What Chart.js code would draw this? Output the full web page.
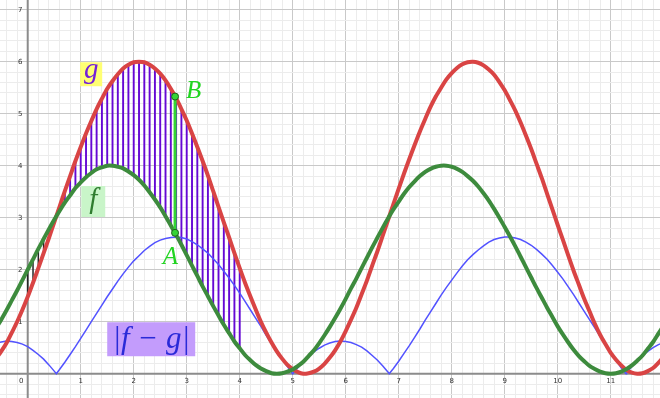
<!DOCTYPE html>
<html>
<head>
<meta charset="utf-8">
<title>f, g and |f − g|</title>
<script src="https://cdn.jsdelivr.net/npm/chart.js@4.4.1/dist/chart.umd.min.js"></script>
<style>
  html, body { margin: 0; padding: 0; background: #fff; }
  #wrap { width: 660px; height: 398px; }
</style>
</head>
<body>
<div id="wrap"><canvas id="plot" width="660" height="398"></canvas></div>
<script>
// Sample positions along x (step 0.1)
const xs = [
  -0.6, -0.5, -0.4, -0.3, -0.2, -0.1, 0.0, 0.1, 0.2, 0.3, 0.4, 0.5, 0.6, 0.7, 0.8, 0.9,
  1.0, 1.1, 1.2, 1.3, 1.4, 1.5, 1.6, 1.7, 1.8, 1.9, 2.0, 2.1, 2.2, 2.3, 2.4, 2.5, 2.6, 2.7, 2.8, 2.9,
  3.0, 3.1, 3.2, 3.3, 3.4, 3.5, 3.6, 3.7, 3.8, 3.9, 4.0, 4.1, 4.2, 4.3, 4.4, 4.5, 4.6, 4.7, 4.8, 4.9,
  5.0, 5.1, 5.2, 5.3, 5.4, 5.5, 5.6, 5.7, 5.8, 5.9, 6.0, 6.1, 6.2, 6.3, 6.4, 6.5, 6.6, 6.7, 6.8, 6.9,
  7.0, 7.1, 7.2, 7.3, 7.4, 7.5, 7.6, 7.7, 7.8, 7.9, 8.0, 8.1, 8.2, 8.3, 8.4, 8.5, 8.6, 8.7, 8.8, 8.9,
  9.0, 9.1, 9.2, 9.3, 9.4, 9.5, 9.6, 9.7, 9.8, 9.9, 10.0, 10.1, 10.2, 10.3, 10.4, 10.5, 10.6, 10.7, 10.8, 10.9,
  11.0, 11.1, 11.2, 11.3, 11.4, 11.5, 11.6, 11.7, 11.8, 11.9, 12.0
];

// f (green curve)
const fVals = [
  0.87, 1.04, 1.22, 1.41, 1.60, 1.80, 2.00, 2.20, 2.40, 2.59, 2.78, 2.96, 3.13, 3.29, 3.43, 3.57,
  3.68, 3.78, 3.86, 3.93, 3.97, 4.00, 4.00, 3.98, 3.95, 3.89, 3.82, 3.73, 3.62, 3.49, 3.35, 3.20, 3.03, 2.85, 2.67, 2.48,
  2.28, 2.08, 1.88, 1.68, 1.49, 1.30, 1.12, 0.94, 0.78, 0.62, 0.49, 0.36, 0.26, 0.17, 0.10, 0.05, 0.01, 0.00, 0.01, 0.04,
  0.08, 0.15, 0.23, 0.34, 0.45, 0.59, 0.74, 0.90, 1.07, 1.25, 1.44, 1.64, 1.83, 2.03, 2.23, 2.43, 2.62, 2.81, 2.99, 3.16,
  3.31, 3.46, 3.59, 3.70, 3.80, 3.88, 3.94, 3.98, 4.00, 4.00, 3.98, 3.94, 3.88, 3.80, 3.71, 3.60, 3.47, 3.33, 3.17, 3.00,
  2.82, 2.64, 2.45, 2.25, 2.05, 1.85, 1.65, 1.46, 1.27, 1.09, 0.91, 0.75, 0.60, 0.46, 0.34, 0.24, 0.15, 0.09, 0.04, 0.01,
  0.00, 0.01, 0.04, 0.09, 0.16, 0.25, 0.35, 0.48, 0.61, 0.77, 0.93
];

// g (red curve)
const gVals = [
  0.29, 0.43, 0.59, 0.79, 1.00, 1.23, 1.48, 1.75, 2.03, 2.32, 2.61, 2.91, 3.21, 3.51, 3.80, 4.09,
  4.36, 4.62, 4.86, 5.09, 5.29, 5.48, 5.63, 5.76, 5.87, 5.94, 5.99, 6.00, 5.99, 5.94, 5.87, 5.77, 5.64, 5.48, 5.30, 5.09,
  4.87, 4.62, 4.36, 4.09, 3.81, 3.51, 3.21, 2.91, 2.62, 2.32, 2.03, 1.75, 1.49, 1.24, 1.00, 0.79, 0.60, 0.43, 0.29, 0.17,
  0.09, 0.03, 0.00, 0.01, 0.04, 0.10, 0.19, 0.31, 0.45, 0.62, 0.82, 1.04, 1.27, 1.53, 1.79, 2.08, 2.36, 2.66, 2.96, 3.26,
  3.56, 3.85, 4.13, 4.40, 4.66, 4.90, 5.13, 5.33, 5.50, 5.66, 5.78, 5.88, 5.95, 5.99, 6.00, 5.98, 5.93, 5.85, 5.75, 5.61,
  5.45, 5.26, 5.06, 4.83, 4.58, 4.32, 4.04, 3.76, 3.46, 3.16, 2.86, 2.57, 2.27, 1.98, 1.71, 1.44, 1.20, 0.96, 0.75, 0.57,
  0.40, 0.27, 0.16, 0.07, 0.02, 0.00, 0.01, 0.05, 0.11, 0.21, 0.33
];

// |f - g| (blue curve)
const diffVals = [
  0.59, 0.61, 0.63, 0.62, 0.60, 0.57, 0.52, 0.45, 0.37, 0.28, 0.17, 0.05, 0.08, 0.22, 0.37, 0.52,
  0.68, 0.84, 1.00, 1.16, 1.32, 1.48, 1.63, 1.78, 1.92, 2.05, 2.17, 2.27, 2.37, 2.45, 2.52, 2.57, 2.60, 2.62, 2.63, 2.62,
  2.59, 2.54, 2.48, 2.40, 2.32, 2.21, 2.10, 1.97, 1.84, 1.70, 1.55, 1.39, 1.23, 1.07, 0.91, 0.74, 0.58, 0.43, 0.28, 0.14,
  0.00, 0.12, 0.23, 0.33, 0.42, 0.49, 0.55, 0.59, 0.62, 0.63, 0.62, 0.60, 0.56, 0.51, 0.44, 0.35, 0.26, 0.15, 0.03, 0.10,
  0.24, 0.39, 0.54, 0.70, 0.86, 1.03, 1.19, 1.35, 1.51, 1.66, 1.80, 1.94, 2.07, 2.19, 2.29, 2.38, 2.46, 2.53, 2.58, 2.61,
  2.63, 2.63, 2.61, 2.58, 2.53, 2.47, 2.39, 2.30, 2.20, 2.08, 1.95, 1.82, 1.67, 1.52, 1.36, 1.20, 1.04, 0.88, 0.72, 0.56,
  0.40, 0.26, 0.11, 0.02, 0.14, 0.25, 0.35, 0.43, 0.50, 0.56, 0.60
];

// where f and g cross (|f - g| = 0)
const diffZeros = [0.54, 5.0, 6.82, 11.29];

// shaded strip between f and g
const hatchStart = 0;
const hatchEnd = 4;

// segment AB at x = 2.78
const segX = 2.78;
const pointA = 2.71;   // f(2.78)
const pointB = 5.33;   // g(2.78)

const xTickLabels = [0, 1, 2, 3, 4, 5, 6, 7, 8, 9, 10, 11];
const yTickLabels = [1, 2, 3, 4, 5, 6, 7];

const toPoints = (vals) => xs.map((x, i) => ({ x: x, y: vals[i] }));

const diffPoints = toPoints(diffVals)
  .concat(diffZeros.map(z => ({ x: z, y: 0 })))
  .sort((a, b) => a.x - b.x);

// vertical hatch lines, split by which curve is on top
const hatchUp = [], hatchDown = [];
xs.forEach((x, i) => {
  if (x < hatchStart - 1e-9 || x > hatchEnd + 1e-9) return;
  const target = fVals[i] > gVals[i] ? hatchDown : hatchUp;
  target.push({ x: x, y: fVals[i] }, { x: x, y: gVals[i] }, { x: x, y: null });
});

// minor grid every 0.2
function gridTicks(scale) {
  const ticks = [];
  for (let k = Math.ceil(scale.min * 5 - 1e-9); k <= Math.floor(scale.max * 5 + 1e-9); k++) {
    ticks.push({ value: k / 5 });
  }
  scale.ticks = ticks;
}

function gridColor(ctx) {
  const v = ctx.tick.value;
  if (Math.abs(v) < 1e-9) return 'rgba(0,0,0,0)';
  return Math.abs(v - Math.round(v)) < 1e-9 ? '#c9c9c9' : '#ececec';
}

const axisPlugin = {
  id: 'axesAndLabels',
  beforeDatasetsDraw(chart) {
    const { ctx, scales: { x, y }, chartArea } = chart;
    const x0 = x.getPixelForValue(0), y0 = y.getPixelForValue(0);
    ctx.save();
    ctx.strokeStyle = '#8c8c8c';
    ctx.lineWidth = 2;
    ctx.beginPath();
    ctx.moveTo(chartArea.left, y0); ctx.lineTo(chartArea.right, y0);
    ctx.moveTo(x0, chartArea.top); ctx.lineTo(x0, chartArea.bottom);
    ctx.stroke();

    ctx.fillStyle = '#333';
    ctx.font = '7px "DejaVu Sans"';
    ctx.textAlign = 'center';
    ctx.textBaseline = 'middle';
    xTickLabels.forEach(v => {
      const px = x.getPixelForValue(v) - (v === 0 ? 6.5 : 0);
      ctx.fillText(String(v), px, y0 + 7.5);
    });
    yTickLabels.forEach(v => {
      ctx.fillText(String(v), x0 - 7.5, y.getPixelForValue(v));
    });
    ctx.restore();
  },
  afterDatasetsDraw(chart) {
    const { ctx, scales: { x, y } } = chart;
    ctx.save();
    ctx.textAlign = 'center';
    ctx.textBaseline = 'alphabetic';

    // name tags
    const tags = [
      { text: 'g', at: [0.99, 5.99], w: 22, h: 24, bg: '#ffff73', color: '#7420d8', size: 29, base: 16 },
      { text: 'f', at: [1.01, 3.61], w: 24, h: 31, bg: '#c9f5c9', color: '#2f7d2f', size: 29, base: 22 },
      { text: '|f − g|', at: [1.50, 0.99], w: 88, h: 34, bg: '#c39cfc', color: '#2a2ad8', size: 31, base: 26 }
    ];
    tags.forEach(t => {
      const left = x.getPixelForValue(t.at[0]), top = y.getPixelForValue(t.at[1]);
      ctx.fillStyle = t.bg;
      ctx.fillRect(left, top, t.w, t.h);
      ctx.fillStyle = t.color;
      ctx.font = 'italic ' + t.size + 'px "Liberation Serif"';
      ctx.fillText(t.text, left + t.w / 2, top + t.base);
    });

    // point names
    ctx.fillStyle = '#22d422';
    ctx.font = 'italic 25px "Liberation Serif"';
    ctx.fillText('A', x.getPixelForValue(2.69), y.getPixelForValue(2.26) + 8);
    ctx.fillText('B', x.getPixelForValue(3.13), y.getPixelForValue(5.46) + 8);
    ctx.restore();
  }
};

const chart = new Chart(document.getElementById('plot'), {
  type: 'line',
  data: {
    datasets: [
      {
        data: [{ x: segX, y: pointA }, { x: segX, y: pointB }],
        showLine: false,
        pointRadius: 3.5,
        pointBackgroundColor: '#35d435',
        pointBorderColor: '#1d5e1d',
        pointBorderWidth: 1,
        order: 0
      },
      {
        data: [{ x: segX, y: pointA }, { x: segX, y: pointB }],
        borderColor: '#33d633',
        borderWidth: 3,
        pointRadius: 0,
        order: 1
      },
      {
        data: toPoints(fVals),
        borderColor: '#3d8b3d',
        borderWidth: 4,
        pointRadius: 0,
        tension: 0.3,
        borderJoinStyle: 'round',
        order: 2
      },
      {
        data: toPoints(gVals),
        borderColor: '#d94444',
        borderWidth: 4,
        pointRadius: 0,
        tension: 0.3,
        borderJoinStyle: 'round',
        order: 3
      },
      {
        data: diffPoints,
        borderColor: '#5252ff',
        borderWidth: 1.5,
        pointRadius: 0,
        tension: 0,
        order: 4
      },
      {
        data: hatchUp,
        borderColor: '#6508d4',
        borderWidth: 1.9,
        pointRadius: 0,
        spanGaps: false,
        order: 5
      },
      {
        data: hatchDown,
        borderColor: '#262626',
        borderWidth: 1.5,
        pointRadius: 0,
        spanGaps: false,
        order: 5
      }
    ]
  },
  options: {
    responsive: false,
    maintainAspectRatio: false,
    animation: false,
    events: [],
    layout: { padding: 0, autoPadding: false },
    plugins: { legend: { display: false }, tooltip: { enabled: false } },
    scales: {
      x: {
        type: 'linear',
        min: -0.523,
        max: 11.93,
        border: { display: false },
        ticks: { display: false },
        grid: { color: gridColor, lineWidth: 1, drawTicks: false },
        afterBuildTicks: gridTicks
      },
      y: {
        type: 'linear',
        min: -0.467,
        max: 7.187,
        border: { display: false },
        ticks: { display: false },
        grid: { color: gridColor, lineWidth: 1, drawTicks: false },
        afterBuildTicks: gridTicks
      }
    }
  },
  plugins: [axisPlugin]
});
</script>
</body>
</html>
